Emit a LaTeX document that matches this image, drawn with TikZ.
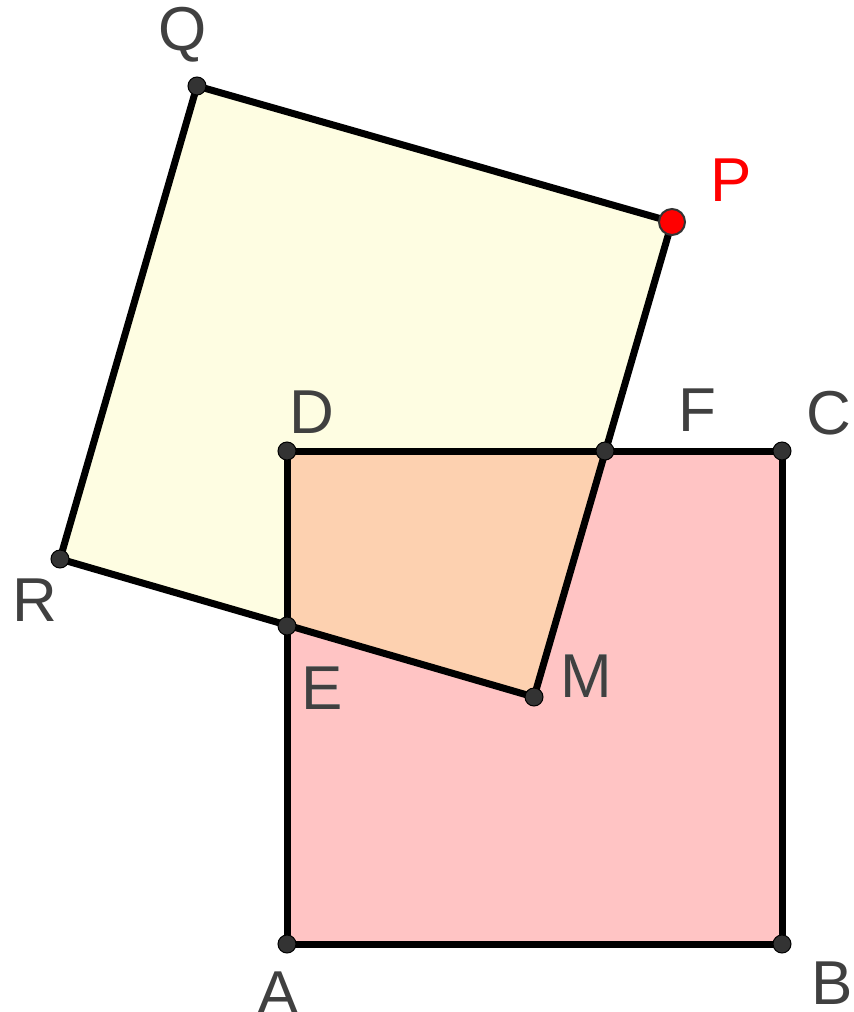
\documentclass[tikz,border=0pt]{standalone}
\usepackage{fontspec}
\setmainfont{Liberation Sans}
\usepackage[outline]{contour}
\contourlength{2.5pt}
\definecolor{pinkfill}{HTML}{FFC4C4}
\definecolor{yelfill}{HTML}{FEFDE2}
\definecolor{orafill}{HTML}{FDD1B0}
\definecolor{lab}{HTML}{404040}
\definecolor{dotc}{HTML}{333333}
\tikzset{
  edge/.style={line width=7pt, line join=round, line cap=round},
  dotpt/.style={circle, fill=dotc, draw=black, line width=1pt, inner sep=0pt, minimum size=18pt},
  redpt/.style={circle, fill=red, draw=black!80, line width=2pt, inner sep=0pt, minimum size=26pt},
  lbl/.style={text=lab, font=\fontsize{62}{62}\selectfont, inner sep=0pt},
}
\begin{document}
\begin{tikzpicture}[x=1pt,y=-1pt]
\useasboundingbox (0,0) rectangle (854,1012);
\coordinate (A) at (287,944);
\coordinate (B) at (782,944);
\coordinate (C) at (782,451);
\coordinate (D) at (287,451);
\coordinate (F) at (605,451);
\coordinate (E) at (287,626);
\coordinate (M) at (534,697);
\coordinate (P) at (672,222);
\coordinate (Q) at (197,86);
\coordinate (R) at (60,559);
\fill[pinkfill] (A) -- (B) -- (C) -- (D) -- cycle;
\fill[yelfill] (M) -- (P) -- (Q) -- (R) -- cycle;
\fill[orafill] (D) -- (F) -- (M) -- (E) -- cycle;
\draw[edge] (A) -- (B) -- (C) -- (D) -- cycle;
\draw[edge] (M) -- (P) -- (Q) -- (R) -- cycle;
\foreach \p in {A,B,C,D,F,E,M,Q,R} \node[dotpt] (d\p) at (\p) {};
\node[redpt] (dP) at (P) {};
\node[lbl] (lQ) at (183,35) {Q};
\node[lbl, text=red] (lP) at (731,180) {P};
\node[lbl] (lD) at (312,412) {D};
\node[lbl] (lF) at (697,410) {F};
\node[lbl] (lC) at (829,413) {C};
\node[lbl] (lR) at (35,600) {R};
\node[lbl] (lE) at (322,688) {\contour{white}{E}};
\node[lbl] (lM) at (586,676) {\contour{white}{M}};
\node[lbl] (lA) at (278,993) {A};
\node[lbl] (lB) at (832,983) {B};
\end{tikzpicture}
\end{document}
